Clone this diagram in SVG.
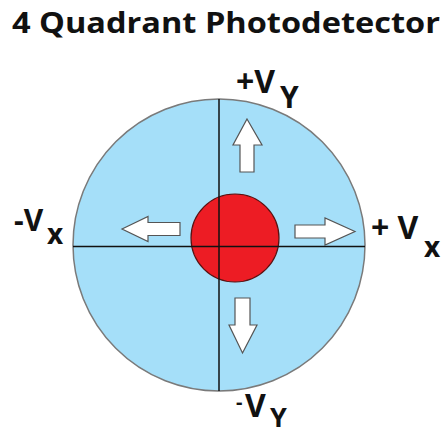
<svg xmlns="http://www.w3.org/2000/svg" width="445" height="436" viewBox="0 0 445 436">
<style>
.t{font-family:"Open Sans","Liberation Sans",sans-serif;font-weight:bold;fill:#111;}
.arr{fill:#fff;stroke:#555;stroke-width:1.2;stroke-linejoin:miter;}
.axis{stroke:#111;stroke-width:1.5;fill:none;}
</style>
<rect width="445" height="436" fill="#fff"/>
<text class="t" x="12" y="33" font-size="28" textLength="428" lengthAdjust="spacingAndGlyphs">4 Quadrant Photodetector</text>
<g id="detector">
<circle cx="219" cy="245" r="146" fill="#A5DFF9" stroke="#7a7a7a" stroke-width="1.5"/>
</g>
<g id="spot">
<circle cx="235" cy="238" r="44" fill="#ED1C24" stroke="#5a1010" stroke-width="1.2"/>
</g>
<g id="connectors">
<line class="axis" x1="73" y1="246.5" x2="365" y2="246.5"/>
<line class="axis" x1="219" y1="99" x2="219" y2="391"/>
</g>
<g id="arrows">
<polygon id="arrow-left" class="arr" points="122,229 148,216.5 148,222.5 180,222.5 180,235.5 148,235.5 148,241.5"/>
<polygon id="arrow-right" class="arr" points="355,231.5 325,218 325,225 295,225 295,238 325,238 325,245"/>
<polygon id="arrow-up" class="arr" points="247,119 262,145 254,145 254,172 240,172 240,145 233,145"/>
<polygon id="arrow-down" class="arr" points="242.5,353 257,325 250,325 250,298 235,298 235,325 229,325"/>
</g>
<g id="label-plus-vy">
<text class="t" x="236" y="93" font-size="32">+V</text>
<text class="t" x="280" y="108" font-size="30">Y</text>
</g>
<g id="label-minus-vx">
<text class="t" x="14" y="231" font-size="30">-V</text>
<text class="t" x="47" y="244" font-size="28">x</text>
</g>
<g id="label-plus-vx">
<text class="t" x="371" y="239" font-size="32">+ V</text>
<text class="t" x="424" y="257" font-size="28">x</text>
</g>
<g id="label-minus-vy">
<text class="t" x="236" y="409" font-size="20">-</text>
<text class="t" x="245" y="417" font-size="32">V</text>
<text class="t" x="270" y="427" font-size="27">Y</text>
</g>
</svg>
